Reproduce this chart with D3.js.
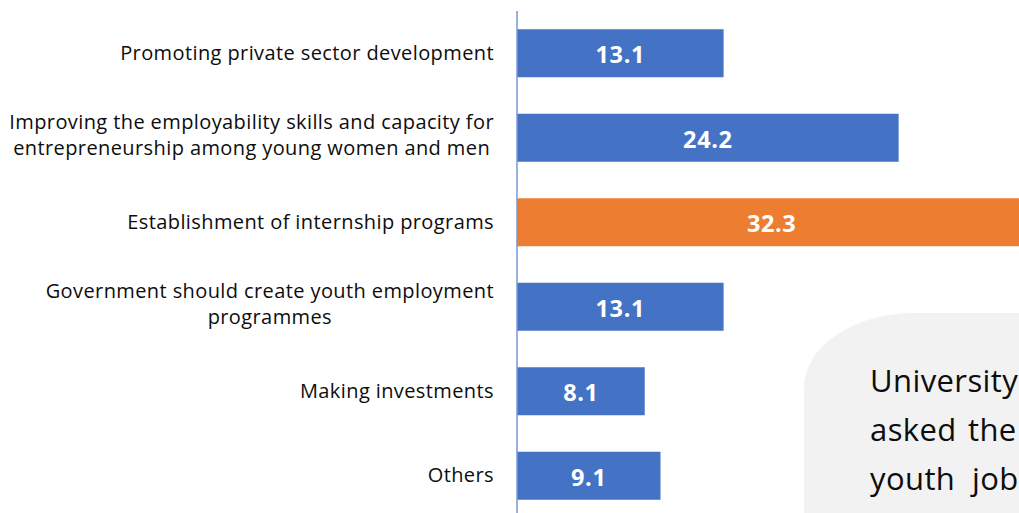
<!DOCTYPE html>
<html>
<head>
<meta charset="utf-8">
<script src="https://cdn.jsdelivr.net/npm/d3@7"></script>
<style>
  html, body { margin: 0; padding: 0; background: #ffffff; overflow: hidden; }
  svg { display: block; }
</style>
</head>
<body>
<svg id="chart" width="1019" height="513"></svg>
<script>
// Recommended measures (% of responses)
const categories = [
  ["Promoting private sector development"],
  ["Improving the employability skills and capacity for", "entrepreneurship among young women and men"],
  ["Establishment of internship programs"],
  ["Government should create youth employment", "programmes"],
  ["Making investments"],
  ["Others"]
];
const values = [13.1, 24.2, 32.3, 13.1, 8.1, 9.1];
// Side note, one array of words per justified line
const noteLines = [["University"], ["asked", "the"], ["youth", "job"]];

const svg = d3.select("#chart");
const font = "'Open Sans', Lato, sans-serif";

const keys = categories.map((c, i) => i);

const y = d3.scaleBand()
  .domain(keys)
  .range([11, 518])
  .paddingInner(0.432)
  .paddingOuter(0.216);

const x = d3.scaleLinear()
  .domain([0, 35])
  .range([517, 517 + 35 * 15.77]);

const maxVal = d3.max(values);

// Bars
svg.append("g")
  .selectAll("rect")
  .data(values)
  .join("rect")
  .attr("x", x(0))
  .attr("y", (d, i) => y(i))
  .attr("width", d => x(d) - x(0))
  .attr("height", y.bandwidth())
  .attr("fill", d => d === maxVal ? "#ed7d31" : "#4472c4");

// Value labels inside bars
svg.append("g")
  .selectAll("text")
  .data(values)
  .join("text")
  .attr("x", d => (x(0) + x(d)) / 2)
  .attr("y", (d, i) => y(i) + y.bandwidth() / 2 + 10)
  .attr("text-anchor", "middle")
  .attr("font-family", font)
  .attr("font-weight", "bold")
  .attr("font-size", 23.5)
  .attr("letter-spacing", 0.6)
  .attr("fill", "#ffffff")
  .text(d => d.toFixed(1));

// Category axis
const axis = svg.append("g")
  .attr("transform", `translate(${x(0)},0)`)
  .call(d3.axisLeft(y).tickSize(0).tickFormat(""));
axis.select(".domain")
  .attr("d", "M0,11V513")
  .attr("stroke", "#7a97d4")
  .attr("stroke-width", 1.5);

// Category labels: block right-aligned, lines centred within the block
const lineH = 26;
const labelRight = 494;
svg.append("g")
  .selectAll("text")
  .data(categories)
  .join("text")
  .attr("text-anchor", "middle")
  .attr("font-family", font)
  .attr("font-size", 20)
  .attr("letter-spacing", 0.4)
  .attr("fill", "#0d0d0d")
  .each(function (lines, i) {
    const c = y(i) + y.bandwidth() / 2;
    const first = c + 6.5 - (lines.length - 1) * (lineH / 2) - (lines.length > 1 ? 2 : 0);
    const spans = d3.select(this).selectAll("tspan")
      .data(lines)
      .join("tspan")
      .attr("y", (l, j) => first + j * lineH)
      .text(l => l);
    const w = d3.max(spans.nodes(), n => n.getComputedTextLength());
    spans.attr("x", labelRight - w / 2);
  });

// Note box
const bx = 804, by = 313, bw = 400, bh = 300, rx = 110, ry = 75;
svg.append("path")
  .attr("d", `M${bx},${by + bh} V${by + ry} A${rx},${ry} 0 0 1 ${bx + rx},${by} H${bx + bw} V${by + bh} Z`)
  .attr("fill", "#f2f2f2");

const wordX = [[870], [870, 968], [870, 972]];
svg.append("g")
  .selectAll("text")
  .data(noteLines)
  .join("text")
  .attr("y", (d, i) => 392 + i * 49)
  .attr("font-family", font)
  .attr("font-size", 31)
  .attr("letter-spacing", 0.4)
  .attr("fill", "#0d0d0d")
  .each(function (words, i) {
    d3.select(this).selectAll("tspan")
      .data(words)
      .join("tspan")
      .attr("x", (w, j) => wordX[i][j])
      .text(w => w);
  });
</script>
</body>
</html>
